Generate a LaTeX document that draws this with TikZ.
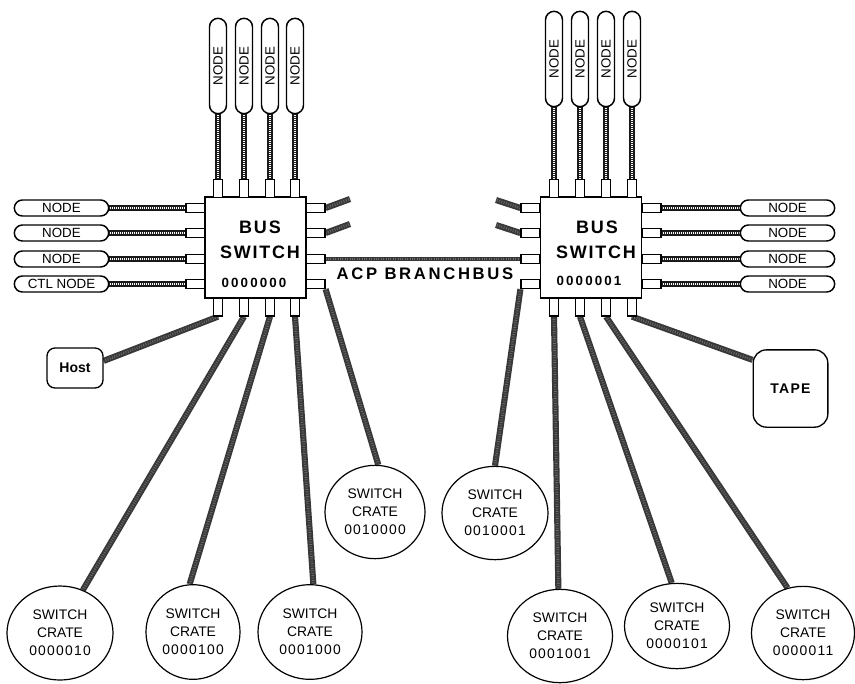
\documentclass[tikz,border=0pt]{standalone}
\usepackage{fontspec}
\setmainfont{Liberation Sans}
\newfontfamily\wideA[LetterSpace=10]{Liberation Sans}
\newfontfamily\wideB[LetterSpace=16]{Liberation Sans}
\newfontfamily\wideC[LetterSpace=9]{Liberation Sans}
\usetikzlibrary{shapes.geometric,shapes.misc,backgrounds}
\tikzset{
 sw/.style={draw, line width=1.1pt, fill=white, minimum width=75.75pt, minimum height=75.75pt, inner sep=0pt},
 pv/.style={draw, line width=0.9pt, fill=white, minimum width=6.75pt, minimum height=13.5pt, inner sep=0pt},
 ph/.style={draw, line width=0.9pt, fill=white, minimum width=14.25pt, minimum height=6.75pt, inner sep=0pt},
 pill/.style={draw, line width=1.1pt, fill=white, rounded rectangle, inner sep=1pt, font=\fontsize{10}{11}\selectfont},
 hpill/.style={pill, minimum width=72.75pt, minimum height=12pt},
 vpill/.style={pill, rotate=90, minimum width=73.5pt, minimum height=12.75pt},
 crate/.style={draw, ellipse, line width=0.9pt, fill=white, inner sep=0pt, align=center, font=\fontsize{10.4}{13.5}\selectfont},
 swname/.style={font=\wideA\bfseries\fontsize{13.5}{15}\selectfont},
 swaddr/.style={font=\wideB\bfseries\fontsize{10}{12}\selectfont},
 braid/.style={line width=3.8pt, draw=black!90, postaction={draw=white, line width=2.2pt}, postaction={draw=black!85, line width=2.2pt, dash pattern=on 0.7pt off 0.8pt}},
 cable/.style={line width=4.6pt, draw=black!78, postaction={draw=black!58, line width=2pt, dash pattern=on 0.6pt off 1.2pt}},
 termbox/.style={draw, line width=1pt, fill=white, font=\bfseries\fontsize{10.5}{12}\selectfont},
}
\begin{document}
\begin{tikzpicture}[x=0.75pt,y=-0.75pt]
\useasboundingbox (0,0) rectangle (855,683);

% ---------- left bus switch ----------
\node[sw] (LS) at (255.5,247.5) {};
\node[swname] (LSn1) at (260,227) {BUS};
\node[swname] (LSn2) at (260,252) {SWITCH};
\node[swaddr] (LSa) at (254,283) {0000000};

\foreach \i/\x in {1/218,2/244,3/270,4/295} {
  \node[pv] (LSt\i) at (\x,188.5) {};
  \node[pv] (LSb\i) at (\x,307) {};
  \node[vpill] (LTp\i) at (\x,66) {NODE};
}
\foreach \i/\y in {1/208,2/233,3/259,4/284} {
  \node[ph] (LSl\i) at (195.5,\y) {};
  \node[ph] (LSr\i) at (315.5,\y) {};
}
\node[hpill] (LLp1) at (61.5,208) {NODE};
\node[hpill] (LLp2) at (61.5,233) {NODE};
\node[hpill] (LLp3) at (61.5,259) {NODE};
\node[hpill] (LLp4) at (61.5,284) {CTL NODE};

% ---------- right bus switch ----------
\node[sw] (RS) at (591,247.5) {};
\node[swname] (RSn1) at (597,227) {BUS};
\node[swname] (RSn2) at (596,252) {SWITCH};
\node[swaddr] (RSa) at (589,281) {0000001};

\foreach \i/\x in {1/554,2/580,3/606,4/632} {
  \node[pv] (RSt\i) at (\x,188.5) {};
  \node[pv] (RSb\i) at (\x,307) {};
  \node[vpill] (RTp\i) at (\x,59) {NODE};
}
\foreach \i/\y in {1/208,2/233,3/259,4/284} {
  \node[ph] (RSl\i) at (530.5,\y) {};
  \node[ph] (RSr\i) at (651.5,\y) {};
  \node[hpill] (RRp\i) at (787.5,\y) {NODE};
}

% ---------- stubs ----------
\coordinate (s1) at (350,199);
\coordinate (s2) at (350,224);
\coordinate (s3) at (496,200);
\coordinate (s4) at (496,225);

% ---------- bus label ----------
\node[font=\wideB\bfseries\fontsize{12.5}{14}\selectfont] (acp) at (425,274) {ACP BRANCHBUS};

% ---------- terminals ----------
\node[termbox, rounded corners=6pt, minimum width=42pt, minimum height=30pt] (Host) at (75,368) {Host};
\node[termbox, rounded corners=10pt, minimum width=56pt, minimum height=58pt, font=\wideC\bfseries\fontsize{10.5}{12}\selectfont] (TAPE) at (790.5,388.5) {TAPE};

% ---------- crates ----------
\node[crate, minimum width=79.5pt, minimum height=70.5pt] (C0000010) at (60,633) {SWITCH\\CRATE\\{\wideC 0000010}};
\node[crate, minimum width=70.5pt, minimum height=71pt] (C0000100) at (193,632) {SWITCH\\CRATE\\{\wideC 0000100}};
\node[crate, minimum width=78pt, minimum height=71pt] (C0001000) at (310,632) {SWITCH\\CRATE\\{\wideC 0001000}};
\node[crate, minimum width=75pt, minimum height=70pt] (C0010000) at (375,512) {SWITCH\\CRATE\\{\wideC 0010000}};
\node[crate, minimum width=79.5pt, minimum height=70pt] (C0010001) at (495,513) {SWITCH\\CRATE\\{\wideC 0010001}};
\node[crate, minimum width=78.75pt, minimum height=70pt] (C0001001) at (560,636) {SWITCH\\CRATE\\{\wideC 0001001}};
\node[crate, minimum width=78.75pt, minimum height=64pt] (C0000101) at (677,626) {SWITCH\\CRATE\\{\wideC 0000101}};
\node[crate, minimum width=77.25pt, minimum height=70pt] (C0000011) at (803,633) {SWITCH\\CRATE\\{\wideC 0000011}};

% ---------- cables ----------
\begin{pgfonlayer}{background}
\foreach \i in {1,...,4} {
  \draw[braid] (LTp\i.west) -- (LSt\i.north);
  \draw[braid] (RTp\i.west) -- (RSt\i.north);
  \draw[braid] (LLp\i.east) -- (LSl\i.west);
  \draw[braid] (RSr\i.east) -- (RRp\i.west);
}
\draw[cable] (LSr1.east) -- (s1);
\draw[cable] (LSr2.east) -- (s2);
\draw[cable] (RSl1.west) -- (s3);
\draw[cable] (RSl2.west) -- (s4);
\draw[cable, line width=3.6pt] (LSr3.east) -- (RSl3.west);
\draw[cable] (LSr4.south east) -- (C0010000.86);
\draw[cable] (RSl4.south west) -- (C0010001.north);
\draw[cable] (LSb1.south) -- (Host.14);
\draw[cable] (LSb2.south) -- (C0000010.62);
\draw[cable] (LSb3.south) -- (C0000100.94);
\draw[cable] (LSb4.south) -- (C0001000.86);
\draw[cable] (RSb1.south) -- (C0001001.92);
\draw[cable] (RSb2.south) -- (C0000101.97);
\draw[cable] (RSb3.south) -- (C0000011.109);
\draw[cable] (RSb4.south) -- (TAPE.143);
\end{pgfonlayer}
\end{tikzpicture}
\end{document}
